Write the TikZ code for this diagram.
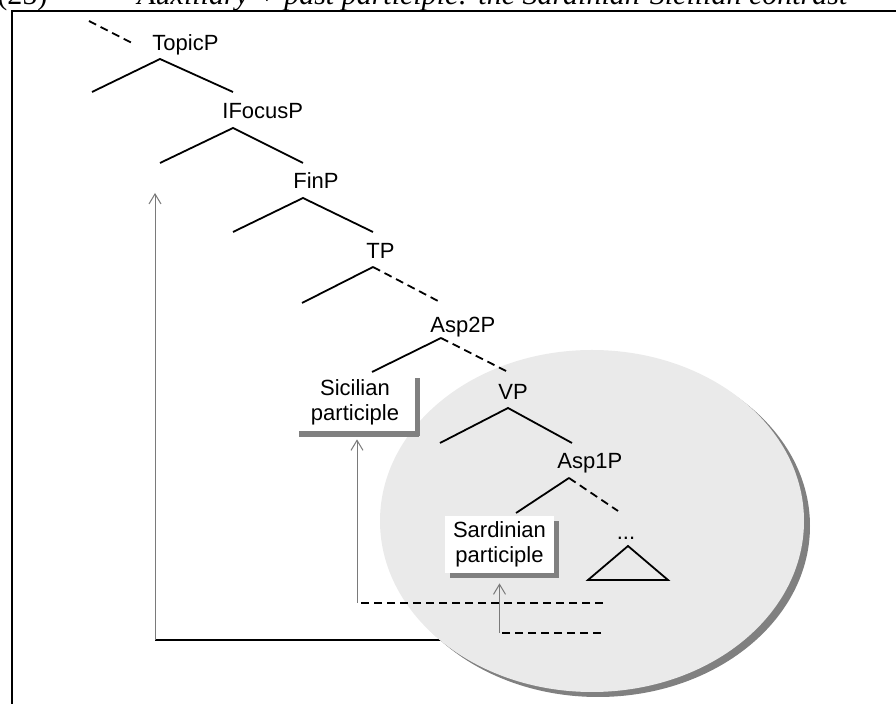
\documentclass[tikz,border=0pt]{standalone}
\usepackage{fontspec}
\setmainfont{Liberation Sans}
\newfontfamily\capfont{Liberation Serif}
\usetikzlibrary{arrows.meta,shadows}
\definecolor{ovalgray}{HTML}{EAEAEA}
\definecolor{shadegray}{HTML}{808080}
\definecolor{tracegray}{HTML}{7A7A7A}

\begin{document}
\begin{tikzpicture}[x=0.5pt,y=-0.5pt,
    every node/.style={font=\fontsize{11}{12.5}\selectfont, inner sep=0pt},
    branch/.style={line width=0.9pt},
    dashbranch/.style={line width=0.9pt, dash pattern=on 4pt off 2.5pt},
    catlabel/.style={anchor=base west},
    partbox/.style={fill=white, align=center,
      drop shadow={shadow xshift=2.5pt, shadow yshift=-2.5pt, fill=shadegray, opacity=1}},
    trace/.style={tracegray, line width=0.5pt, -{Straight Barb[length=5pt,width=6pt]}},
  ]
  \useasboundingbox (0,0) rectangle (896,704);

  % caption, cut off by the page
  \node[anchor=base west, font=\capfont\fontsize{15}{17}\selectfont] (capnum) at (-3,5) {(25)};
  \node[anchor=base west, font=\capfont\itshape\fontsize{15}{17}\selectfont] (captext) at (137,5)
    {Auxiliary + past participle: the Sardinian-Sicilian contrast};
  \draw[line width=1pt] (12,11) rectangle (910,720);

  % long movement, partly under the oval
  \coordinate (long-in) at (520,640);
  \coordinate (long-turn) at (155,640);
  \coordinate (ifocus-gap) at (155,193);
  \draw[line width=0.6pt] (long-in) -- (long-turn);
  \draw[trace] (long-turn) -- (ifocus-gap);

  % the shaded oval
  \fill[ovalgray, drop shadow={shadow xshift=3pt, shadow yshift=-2.5pt, fill=shadegray, opacity=1}]
    (592,521) ellipse [x radius=106pt, y radius=85.5pt];

  % the tree
  \coordinate (topicp-in) at (89,21);
  \coordinate (topicp-end) at (132,43);
  \draw[dashbranch] (topicp-in) -- (topicp-end);
  \node[catlabel] (topicp) at (152,51) {TopicP};
  \coordinate (topicp-a) at (160,59);
  \coordinate (topicp-l) at (92,92);
  \coordinate (topicp-r) at (233,92);
  \draw[branch] (topicp-l) -- (topicp-a) -- (topicp-r);

  \node[catlabel] (ifocusp) at (222,119) {IFocusP};
  \coordinate (ifocusp-a) at (233,128);
  \coordinate (ifocusp-l) at (160,163);
  \coordinate (ifocusp-r) at (303,163);
  \draw[branch] (ifocusp-l) -- (ifocusp-a) -- (ifocusp-r);

  \node[catlabel] (finp) at (293,189) {FinP};
  \coordinate (finp-a) at (303,198);
  \coordinate (finp-l) at (233,232);
  \coordinate (finp-r) at (373,232);
  \draw[branch] (finp-l) -- (finp-a) -- (finp-r);

  \node[catlabel] (tp) at (366,259) {TP};
  \coordinate (tp-a) at (373,267);
  \coordinate (tp-l) at (302,303);
  \coordinate (tp-r) at (438,301);
  \draw[branch] (tp-l) -- (tp-a);
  \draw[dashbranch] (tp-a) -- (tp-r);

  \node[catlabel] (asp2p) at (430,333) {Asp2P};
  \coordinate (asp2p-a) at (441,338);
  \coordinate (asp2p-l) at (372,372);
  \coordinate (asp2p-r) at (508,372);
  \draw[branch] (asp2p-l) -- (asp2p-a);
  \draw[dashbranch] (asp2p-a) -- (asp2p-r);

  \node[catlabel] (vp) at (498,400) {VP};
  \coordinate (vp-a) at (508,408);
  \coordinate (vp-l) at (440,443);
  \coordinate (vp-r) at (572,443);
  \draw[branch] (vp-l) -- (vp-a) -- (vp-r);

  \node[catlabel] (asp1p) at (557,469) {Asp1P};
  \coordinate (asp1p-a) at (569,478);
  \coordinate (asp1p-l) at (516,513);
  \coordinate (asp1p-r) at (618,511);
  \draw[branch] (asp1p-l) -- (asp1p-a);
  \draw[dashbranch] (asp1p-a) -- (asp1p-r);

  \node[anchor=base] (dots) at (626,540) {...};
  \coordinate (tri-a) at (628,546);
  \coordinate (tri-l) at (588,580);
  \coordinate (tri-r) at (668,580);
  \draw[branch] (tri-a) -- (tri-l) -- (tri-r) -- cycle;

  % the two participles
  \node[partbox, minimum width=60pt, minimum height=29pt,
    drop shadow={shadow xshift=2pt, shadow yshift=-3pt, fill=shadegray, opacity=1}]
    (sicilian) at (355,402) {Sicilian\\participle};
  \node[partbox, minimum width=54.5pt, minimum height=28.5pt] (sardinian) at (499.5,544.5) {Sardinian\\participle};

  % short movements
  \coordinate (sic-foot) at (357,603);
  \coordinate (sic-end) at (603,603);
  \draw[dashbranch] (sic-end) -- (sic-foot);
  \draw[trace] (sic-foot) -- ([xshift=1pt,yshift=-4pt]sicilian.south);

  \coordinate (sar-foot) at (499.5,633);
  \coordinate (sar-end) at (601,633);
  \draw[dashbranch] (sar-end) -- (sar-foot);
  \draw[trace] (sar-foot) -- ([yshift=-5pt]sardinian.south);
\end{tikzpicture}
\end{document}
